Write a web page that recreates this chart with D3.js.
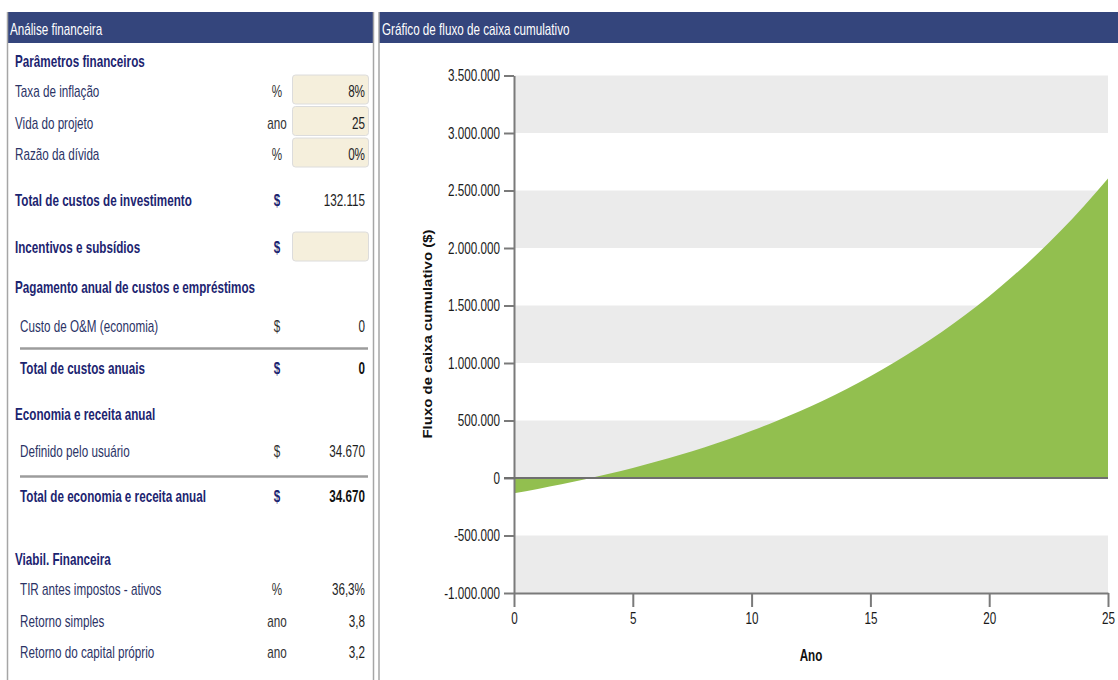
<!DOCTYPE html>
<html>
<head>
<meta charset="utf-8">
<script src="https://cdn.jsdelivr.net/npm/d3@7"></script>
<style>
  html, body { margin: 0; padding: 0; background: #fff; }
  svg { display: block; }
  text { font-family: "Liberation Sans", Arial, sans-serif; }
</style>
</head>
<body>
<svg id="page" width="1118" height="680"></svg>
<script>
// ---------------- DATA ----------------
const years = [0,1,2,3,4,5,6,7,8,9,10,11,12,13,14,15,16,17,18,19,20,21,22,23,24,25];
const cumulativeCashFlow = [
  -132115, -94671, -54231, -10557, 36611, 87553, 142570, 201988, 266160, 335466,
  410316, 491154, 578459, 672748, 774581, 884560, 1003337, 1131617, 1270159, 1419784,
  1581379, 1755902, 1944387, 2147951, 2367800, 2605237
];
const yTicks = [-1000000, -500000, 0, 500000, 1000000, 1500000, 2000000, 2500000, 3000000, 3500000];
const xTicks = [0, 5, 10, 15, 20, 25];

const leftTitle = "Análise financeira";
const rightTitle = "Gráfico de fluxo de caixa cumulativo";
const yAxisTitle = "Fluxo de caixa cumulativo ($)";
const xAxisTitle = "Ano";

const paramHeading = "Parâmetros financeiros";
const paramLabels = ["Taxa de inflação", "Vida do projeto", "Razão da dívida"];
const paramUnits = ["%", "ano", "%"];
const paramValues = ["8%", "25", "0%"];

const investLabel = "Total de custos de investimento";
const investUnit = "$";
const investValue = "132.115";

const incentiveLabel = "Incentivos e subsídios";
const incentiveUnit = "$";

const costHeading = "Pagamento anual de custos e empréstimos";
const costLabels = ["Custo de O&M (economia)"];
const costUnits = ["$"];
const costValues = ["0"];
const costTotalLabel = "Total de custos anuais";
const costTotalValue = "0";

const revHeading = "Economia e receita anual";
const revLabels = ["Definido pelo usuário"];
const revUnits = ["$"];
const revValues = ["34.670"];
const revTotalLabel = "Total de economia e receita anual";
const revTotalValue = "34.670";

const viabHeading = "Viabil. Financeira";
const viabLabels = ["TIR antes impostos - ativos", "Retorno simples", "Retorno do capital próprio"];
const viabUnits = ["%", "ano", "ano"];
const viabValues = ["36,3%", "3,8", "3,2"];

// ---------------- STYLE ----------------
const SX = 0.73;
const FS = 16;
const HEADER = "#34457c";
const NAVY = "#1c2470";
const LABEL = "#2b3366";
const VALUE = "#1e1e1e";

const svg = d3.select("#page");

function txt(parent, x, y, s, o = {}) {
  const size = o.size || FS;
  return parent.append("text")
    .attr("transform", `translate(${x},${y}) scale(${o.sx || SX},1)`)
    .attr("text-anchor", o.anchor || "start")
    .attr("font-size", size)
    .attr("font-weight", o.weight || "normal")
    .attr("fill", o.fill || LABEL)
    .text(s);
}

// ---------------- LEFT PANEL ----------------
const left = svg.append("g");
left.append("rect").attr("x", 7).attr("y", 12).attr("width", 367).attr("height", 31).attr("fill", HEADER);
left.append("line").attr("x1", 7.5).attr("x2", 7.5).attr("y1", 12).attr("y2", 680).attr("stroke", "#a6a6a6").attr("stroke-width", 1.5);
left.append("line").attr("x1", 373.5).attr("x2", 373.5).attr("y1", 12).attr("y2", 680).attr("stroke", "#a6a6a6").attr("stroke-width", 1.5);
txt(left, 10, 35, leftTitle, { fill: "#ffffff" });

const UX = 277, VX = 365;
function inputBox(y) {
  left.append("rect").attr("x", 292.5).attr("y", y).attr("width", 76).attr("height", 29)
    .attr("rx", 3).attr("fill", "#f5efdc").attr("stroke", "#dcdcdc").attr("stroke-width", 1);
}

txt(left, 15, 67, paramHeading, { weight: "bold", fill: NAVY });
const paramY = [97, 128.5, 160];
paramLabels.forEach((l, i) => {
  inputBox(paramY[i] - 22);
  txt(left, 15, paramY[i], l);
  txt(left, UX, paramY[i], paramUnits[i], { anchor: "middle", fill: "#333" });
  txt(left, VX, paramY[i], paramValues[i], { anchor: "end", fill: VALUE });
});

txt(left, 15, 206, investLabel, { weight: "bold", fill: NAVY });
txt(left, UX, 206, investUnit, { anchor: "middle", weight: "bold", fill: NAVY });
txt(left, VX, 206, investValue, { anchor: "end", fill: VALUE });

inputBox(232);
txt(left, 15, 253, incentiveLabel, { weight: "bold", fill: NAVY });
txt(left, UX, 253, incentiveUnit, { anchor: "middle", weight: "bold", fill: NAVY });

txt(left, 15, 293, costHeading, { weight: "bold", fill: NAVY });
costLabels.forEach((l, i) => {
  const y = 332 + i * 31;
  txt(left, 20, y, l);
  txt(left, UX, y, costUnits[i], { anchor: "middle", fill: "#333" });
  txt(left, VX, y, costValues[i], { anchor: "end", fill: VALUE });
});
left.append("line").attr("x1", 20).attr("x2", 368).attr("y1", 348.5).attr("y2", 348.5).attr("stroke", "#9c9c9c").attr("stroke-width", 2.5);
txt(left, 20, 374, costTotalLabel, { weight: "bold", fill: NAVY });
txt(left, UX, 374, "$", { anchor: "middle", weight: "bold", fill: NAVY });
txt(left, VX, 374, costTotalValue, { anchor: "end", weight: "bold", fill: "#111" });

txt(left, 15, 420, revHeading, { weight: "bold", fill: NAVY });
revLabels.forEach((l, i) => {
  const y = 457 + i * 31;
  txt(left, 20, y, l);
  txt(left, UX, y, revUnits[i], { anchor: "middle", fill: "#333" });
  txt(left, VX, y, revValues[i], { anchor: "end", fill: VALUE });
});
left.append("line").attr("x1", 20).attr("x2", 368).attr("y1", 476.5).attr("y2", 476.5).attr("stroke", "#9c9c9c").attr("stroke-width", 2.5);
txt(left, 20, 502, revTotalLabel, { weight: "bold", fill: NAVY });
txt(left, UX, 502, "$", { anchor: "middle", weight: "bold", fill: NAVY });
txt(left, VX, 502, revTotalValue, { anchor: "end", weight: "bold", fill: "#111" });

txt(left, 15, 565, viabHeading, { weight: "bold", fill: NAVY });
const viabY = [595, 627, 658];
viabLabels.forEach((l, i) => {
  txt(left, 20, viabY[i], l);
  txt(left, UX, viabY[i], viabUnits[i], { anchor: "middle", fill: "#333" });
  txt(left, VX, viabY[i], viabValues[i], { anchor: "end", fill: VALUE });
});

// ---------------- RIGHT PANEL ----------------
const right = svg.append("g");
right.append("rect").attr("x", 379).attr("y", 12).attr("width", 739).attr("height", 31).attr("fill", HEADER);
right.append("line").attr("x1", 379).attr("x2", 379).attr("y1", 12).attr("y2", 680).attr("stroke", "#a6a6a6").attr("stroke-width", 1.5);
txt(right, 382, 35, rightTitle, { fill: "#ffffff" });

const x = d3.scaleLinear().domain([0, 25]).range([514, 1108]);
const y = d3.scaleLinear().domain([-1000000, 3500000]).range([593, 75.5]);

// bands
const bands = [];
for (let i = 0; i < yTicks.length - 1; i += 2) bands.push([yTicks[i], yTicks[i + 1]]);
right.selectAll("rect.band").data(bands).enter().append("rect")
  .attr("class", "band")
  .attr("x", x(0)).attr("width", x(25) - x(0))
  .attr("y", d => y(d[1])).attr("height", d => y(d[0]) - y(d[1]))
  .attr("fill", "#ebebeb");

// area
const area = d3.area()
  .x((d, i) => x(years[i]))
  .y0(y(0))
  .y1(d => y(d))
  .curve(d3.curveMonotoneX);
right.append("path").datum(cumulativeCashFlow).attr("d", area).attr("fill", "#92bf4f");

// locale
const loc = d3.formatLocale({ decimal: ",", thousands: ".", grouping: [3], currency: ["$", ""], minus: "-" });
const fmt = loc.format(",d");

// y axis
const yAxis = right.append("g").attr("transform", `translate(${x(0)},0)`)
  .call(d3.axisLeft(y).tickValues(yTicks).tickFormat(fmt).tickSize(10).tickPadding(4).tickSizeOuter(0));
// x axis
const xAxis = right.append("g").attr("transform", `translate(0,${y(-1000000)})`)
  .call(d3.axisBottom(x).tickValues(xTicks).tickFormat(d3.format("d")).tickSize(14).tickPadding(6).tickSizeOuter(0));

[yAxis, xAxis].forEach(ax => {
  ax.select(".domain").attr("stroke", "#7a7a7a").attr("stroke-width", 2);
  ax.selectAll(".tick line").attr("stroke", "#7a7a7a").attr("stroke-width", 2);
});
yAxis.selectAll(".tick text").each(function () {
  const t = d3.select(this);
  const xx = +t.attr("x");
  t.attr("x", null).attr("transform", `translate(${xx},0) scale(${SX},1)`);
}).attr("font-size", FS).attr("font-family", "Liberation Sans, Arial, sans-serif").attr("fill", "#1a1a1a");
xAxis.selectAll(".tick text").attr("transform", `scale(${SX},1)`)
  .attr("font-size", FS).attr("font-family", "Liberation Sans, Arial, sans-serif").attr("fill", "#1a1a1a");

// zero line
right.append("line").attr("x1", x(0) - 10).attr("x2", x(25)).attr("y1", y(0)).attr("y2", y(0))
  .attr("stroke", "#6f6f6f").attr("stroke-width", 2);

// axis titles
right.append("text")
  .attr("transform", `translate(432,334) rotate(-90) scale(1,0.8)`)
  .attr("text-anchor", "middle").attr("font-size", 15).attr("font-weight", "bold").attr("fill", "#111")
  .text(yAxisTitle);
txt(right, 811, 661, xAxisTitle, { anchor: "middle", weight: "bold", fill: "#111" });
</script>
</body>
</html>
